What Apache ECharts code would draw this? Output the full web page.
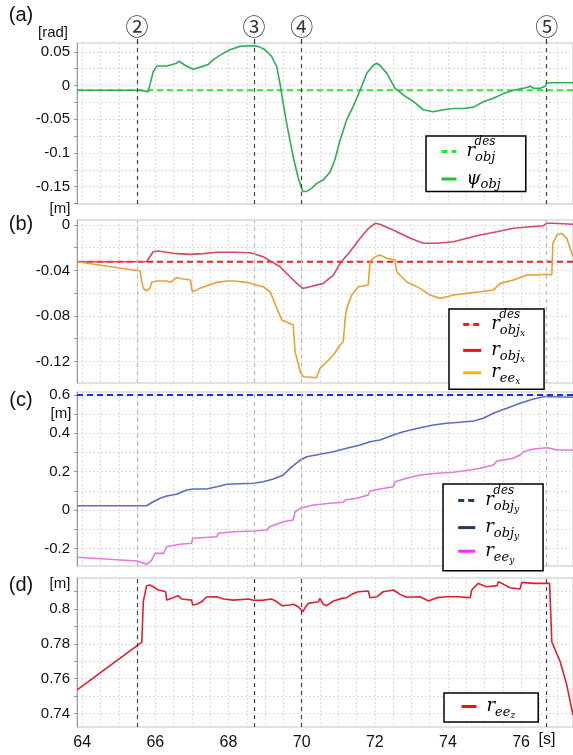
<!DOCTYPE html>
<html>
<head>
<meta charset="utf-8">
<script src="https://cdn.jsdelivr.net/npm/echarts@6/dist/echarts.min.js"></script>
<style>
  html, body { margin: 0; padding: 0; background: #fff; }
  #chart { width: 573px; height: 755px; }
</style>
</head>
<body>
<div id="chart"></div>
<script>
// shared time axis [s]
const xTicks = [64, 66, 68, 70, 72, 74, 76];
const xGrid = [64, 64.5, 65, 65.5, 66, 66.5, 67, 67.5, 68, 68.5, 69, 69.5, 70, 70.5, 71, 71.5,
  72, 72.5, 73, 73.5, 74, 74.5, 75, 75.5, 76, 76.5, 77];
const events = [65.5, 68.7, 70.0, 76.7];
const eventTags = ['②', '③', '④', '⑤'];

// (a) object yaw [rad]
const aTicks = [0.05, 0, -0.05, -0.1, -0.15];
const aGrid = [0.05, 0.025, 0, -0.025, -0.05, -0.075, -0.1, -0.125, -0.15, -0.175];
const psiDes = -0.007;
const psiObj = [[63.86,-0.007],[65.58,-0.007],[65.67,-0.008],[65.80,-0.009],[65.85,0.001],[65.94,0.020],
  [66.04,0.029],[66.31,0.029],[66.58,0.033],[66.65,0.036],[66.81,0.030],[66.95,0.026],[67.03,0.024],
  [67.27,0.028],[67.44,0.031],[67.58,0.038],[67.77,0.045],[68.04,0.053],[68.31,0.058],[68.64,0.059],
  [68.81,0.058],[69.0,0.053],[69.18,0.043],[69.32,0.028],[69.41,0.002],[69.50,-0.028],[69.59,-0.056],
  [69.68,-0.081],[69.77,-0.106],[69.91,-0.138],[70.03,-0.157],[70.14,-0.157],[70.28,-0.152],[70.41,-0.145],
  [70.59,-0.140],[70.78,-0.128],[70.91,-0.110],[71.05,-0.081],[71.23,-0.051],[71.41,-0.031],[71.60,-0.007],
  [71.78,0.018],[71.96,0.030],[72.05,0.033],[72.14,0.030],[72.33,0.018],[72.55,-0.004],[72.78,-0.014],
  [73.06,-0.024],[73.33,-0.036],[73.60,-0.039],[73.88,-0.036],[74.15,-0.034],[74.42,-0.034],[74.70,-0.032],
  [74.97,-0.024],[75.24,-0.019],[75.52,-0.012],[75.79,-0.007],[76.16,-0.003],[76.25,-0.001],[76.34,-0.004],
  [76.52,-0.004],[76.66,-0.001],[76.70,0.003],[76.79,0.004],[77.42,0.004]];

// (b) x position [m]
const bTicks = [0, -0.04, -0.08, -0.12];
const bGrid = [0, -0.02, -0.04, -0.06, -0.08, -0.1, -0.12];
const xDes = -0.0324;
const xObj = [[63.86,-0.0324],[65.76,-0.0324],[65.94,-0.0236],[66.08,-0.023],[66.49,-0.025],[66.95,-0.0259],
  [67.31,-0.0253],[67.68,-0.0241],[68.13,-0.0241],[68.59,-0.0245],[68.95,-0.028],[69.18,-0.0324],
  [69.41,-0.0368],[69.68,-0.0456],[69.87,-0.0514],[70.03,-0.0558],[70.23,-0.0544],[70.59,-0.0514],
  [70.87,-0.0441],[71.05,-0.0338],[71.32,-0.0236],[71.60,-0.0118],[71.83,-0.003],[72.01,0.0014],
  [72.14,0.0005],[72.50,-0.0045],[72.97,-0.0118],[73.33,-0.0162],[73.70,-0.0162],[74.15,-0.0148],
  [74.52,-0.0118],[74.88,-0.0089],[75.34,-0.006],[75.79,-0.003],[76.25,-0.0016],[76.61,-0.0007],
  [76.70,0.0014],[76.88,0.0014],[77.42,0.0005]];
const xEe = [[63.86,-0.0324],[65.58,-0.0405],[65.63,-0.05],[65.67,-0.0558],[65.76,-0.0581],[65.85,-0.0558],
  [65.90,-0.0505],[66.04,-0.0493],[66.31,-0.0493],[66.40,-0.0505],[66.49,-0.0485],[66.58,-0.0464],
  [66.76,-0.0476],[66.96,-0.0485],[67.01,-0.0588],[67.22,-0.0558],[67.40,-0.0535],[67.68,-0.0505],
  [67.95,-0.0493],[68.13,-0.0493],[68.50,-0.0505],[68.68,-0.0522],[68.95,-0.0544],[69.14,-0.0588],
  [69.32,-0.0733],[69.46,-0.0836],[69.77,-0.088],[69.82,-0.1115],[69.87,-0.1173],[69.96,-0.1291],
  [70.05,-0.1335],[70.41,-0.1344],[70.50,-0.1261],[70.69,-0.1203],[70.87,-0.1144],[71.05,-0.1056],
  [71.14,-0.1027],[71.19,-0.0821],[71.23,-0.0734],[71.37,-0.0617],[71.55,-0.0544],[71.82,-0.0529],
  [71.87,-0.0324],[72.01,-0.028],[72.14,-0.0265],[72.33,-0.0294],[72.55,-0.0309],[72.60,-0.0412],
  [72.87,-0.05],[73.24,-0.0558],[73.51,-0.0617],[73.79,-0.0646],[73.97,-0.0631],[74.15,-0.0617],
  [74.52,-0.0602],[74.88,-0.0588],[75.24,-0.0573],[75.43,-0.0514],[75.79,-0.0485],[76.16,-0.0441],
  [76.43,-0.0441],[76.70,-0.0434],[76.84,-0.0441],[76.87,-0.0162],[76.98,-0.0089],[77.11,-0.0074],
  [77.25,-0.0118],[77.42,-0.028]];

// (c) y position [m]
const cTicks = [0.6, 0.4, 0.2, 0, -0.2];
const cGrid = [0.6, 0.5, 0.4, 0.3, 0.2, 0.1, 0, -0.1, -0.2];
const yDes = 0.6;
const yObj = [[63.86,0.0224],[65.76,0.0224],[65.94,0.0433],[66.13,0.061],[66.31,0.073],[66.58,0.0819],
  [66.86,0.1043],[67.04,0.1095],[67.40,0.1095],[67.68,0.1215],[67.95,0.1341],[68.32,0.1372],[68.68,0.1393],
  [68.95,0.1476],[69.23,0.1617],[69.50,0.1826],[69.68,0.2175],[69.96,0.2608],[70.14,0.278],[70.50,0.2906],
  [70.87,0.3041],[71.23,0.3219],[71.60,0.3391],[71.87,0.3563],[72.14,0.3652],[72.51,0.3912],[72.78,0.4085],
  [73.24,0.4293],[73.60,0.4434],[73.97,0.4523],[74.33,0.4575],[74.70,0.4643],[74.97,0.4784],[75.24,0.5045],
  [75.61,0.5305],[75.97,0.5566],[76.34,0.579],[76.61,0.591],[76.79,0.591],[77.42,0.5879]];
const yEe = [[63.86,-0.2467],[65.49,-0.266],[65.76,-0.2833],[65.90,-0.2608],[65.99,-0.2259],[66.22,-0.2259],
  [66.31,-0.1914],[66.67,-0.1789],[66.99,-0.1737],[67.02,-0.1476],[67.68,-0.1393],[67.72,-0.1215],
  [68.13,-0.1132],[68.68,-0.1095],[69.05,-0.1043],[69.12,-0.0871],[69.50,-0.061],[69.77,-0.0522],
  [69.82,-0.0089],[69.96,0.0089],[70.32,0.0261],[70.78,0.035],[71.14,0.0402],[71.19,0.0522],[71.51,0.061],
  [71.82,0.0782],[71.87,0.0991],[72.14,0.1095],[72.51,0.1215],[72.55,0.1476],[72.87,0.1654],[73.24,0.1826],
  [73.70,0.1914],[74.15,0.1967],[74.61,0.2087],[74.88,0.2175],[75.24,0.2347],[75.34,0.2556],[75.79,0.2697],
  [75.97,0.2869],[76.06,0.3041],[76.34,0.3182],[76.70,0.325],[76.79,0.3219],[76.98,0.313],[77.42,0.313]];

// (d) z position [m]
const dTicks = [0.8, 0.78, 0.76, 0.74];
const dGrid = [0.81, 0.8, 0.79, 0.78, 0.77, 0.76, 0.75, 0.74];
const zEe = [[63.86,0.7535],[65.63,0.7809],[65.67,0.8042],[65.76,0.8134],[65.85,0.8138],[65.94,0.8128],
  [66.08,0.8109],[66.21,0.8103],[66.28,0.8099],[66.31,0.8051],[66.45,0.8061],[66.54,0.807],[66.63,0.8076],
  [66.72,0.8057],[66.99,0.8051],[67.02,0.8023],[67.13,0.8027],[67.27,0.8042],[67.40,0.8069],[67.68,0.807],
  [67.86,0.8057],[68.13,0.8051],[68.54,0.8057],[68.68,0.805],[68.95,0.8051],[69.18,0.8057],[69.32,0.8042],
  [69.46,0.8019],[69.68,0.8023],[69.77,0.8027],[69.91,0.8013],[70.03,0.7984],[70.09,0.8007],[70.18,0.8032],
  [70.46,0.8042],[70.50,0.8061],[70.59,0.8027],[70.68,0.8019],[70.87,0.8046],[71.10,0.8061],[71.23,0.8065],
  [71.37,0.8084],[71.55,0.8099],[71.82,0.8103],[71.87,0.8065],[72.05,0.807],[72.23,0.8099],[72.51,0.8109],
  [72.69,0.8084],[72.87,0.8067],[73.24,0.807],[73.47,0.8046],[73.70,0.8065],[73.97,0.807],[74.24,0.807],
  [74.61,0.8065],[74.65,0.8109],[74.83,0.8147],[75.06,0.8128],[75.34,0.8134],[75.38,0.8157],[75.70,0.8122],
  [75.97,0.8115],[76.02,0.8153],[76.34,0.8147],[76.78,0.8147],[76.84,0.7812],[77.07,0.7697],[77.25,0.7563],
  [77.42,0.7391]];

const X_MIN = 63.857, X_MAX = 77.42;
const LABEL_FONT = 'Liberation Sans';
const MATH_FONT = 'DejaVu Serif';

// stacked panel layout (annotation strip + a, b, c, d)
const panels = [
  { top: 15, height: 28, y: [0, 1] },
  { top: 43, height: 161, y: [-0.1756, 0.063] },
  { top: 220, height: 163, y: [-0.139, 0.0043] },
  { top: 392, height: 174, y: [-0.292, 0.6156] },
  { top: 578, height: 149, y: [0.7322, 0.8178] }
];

const fmt = v => String(parseFloat((+v).toFixed(3)));
const gridLine = { show: true, lineStyle: { color: '#dcdcdc', type: [2, 2], width: 1 } };

function xAxisFor(i) {
  const bottom = i === 4;
  return {
    type: 'value', gridIndex: i, min: X_MIN, max: X_MAX, show: i > 0,
    axisLine: { show: false },
    axisTick: { show: false, customValues: xGrid },
    axisLabel: {
      show: bottom, customValues: xTicks, formatter: fmt,
      fontSize: 16, color: '#111', fontFamily: LABEL_FONT, margin: 8
    },
    splitLine: gridLine
  };
}

function yAxisFor(i, labels, grid) {
  return {
    type: 'value', gridIndex: i, min: panels[i].y[0], max: panels[i].y[1],
    axisLine: { show: true, lineStyle: { color: '#9a9a9a' } },
    axisTick: { show: true, customValues: grid, length: 3, lineStyle: { color: '#9a9a9a' } },
    axisLabel: {
      customValues: labels, formatter: fmt,
      fontSize: 15, color: '#111', fontFamily: LABEL_FONT, margin: 7
    },
    splitLine: gridLine
  };
}

function eventLines(color) {
  return {
    silent: true, symbol: 'none', animation: false,
    label: { show: false },
    lineStyle: { color: color, type: [4, 4], width: 1.2 },
    data: events.map(t => ({ xAxis: t }))
  };
}

function desLine(name, idx, value, color, lineColor) {
  return {
    name: name, type: 'line', xAxisIndex: idx, yAxisIndex: idx,
    data: [[X_MIN, value], [X_MAX, value]],
    symbol: 'none', color: color,
    lineStyle: { color: color, width: 1.8, type: [6, 4] },
    markLine: eventLines(lineColor), z: 3
  };
}

function trace(name, idx, data, color) {
  return {
    name: name, type: 'line', xAxisIndex: idx, yAxisIndex: idx, data: data,
    symbol: 'none', color: color, lineStyle: { color: color, width: 1.6 }, z: 4
  };
}

// legend text: math-like labels with sub/superscripts
const m = (extra) => Object.assign({ fontFamily: MATH_FONT, fontStyle: 'italic', color: '#000' }, extra);
const rich = {
  m: m({ fontSize: 18, lineHeight: 24, padding: [0, 0, 0, 5] }),
  s: m({ fontSize: 13, lineHeight: 24, padding: [12, 0, 0, 0] }),
  ss: m({ fontSize: 9, lineHeight: 24, padding: [18, 0, 0, 0] }),
  sup: m({ fontSize: 12, lineHeight: 8, padding: [0, 0, 0, 13] }),
  md: m({ fontSize: 18, lineHeight: 19, padding: [0, 0, 8, 5] }),
  sd: m({ fontSize: 13, lineHeight: 19, padding: [4, 0, 0, 0] }),
  ssd: m({ fontSize: 9, lineHeight: 19, padding: [10, 0, 0, 0] })
};
const legendText = {
  psi_des: '{sup|des}\n{md|r}{sd|obj}',
  psi: '{m|ψ}{s|obj}',
  x_des: '{sup|des}\n{md|r}{sd|obj}{ssd|x}',
  x_obj: '{m|r}{s|obj}{ss|x}',
  x_ee: '{m|r}{s|ee}{ss|x}',
  y_des: '{sup|des}\n{md|r}{sd|obj}{ssd|y}',
  y_obj: '{m|r}{s|obj}{ss|y}',
  y_ee: '{m|r}{s|ee}{ss|y}',
  z_ee: '{m|r}{s|ee}{ss|z}'
};

function legendBox(left, top, padding, itemWidth, itemGap, items) {
  return {
    left: left, top: top, orient: 'vertical', padding: padding,
    itemWidth: itemWidth, itemHeight: 10, itemGap: itemGap,
    backgroundColor: '#fff', borderColor: '#000', borderWidth: 1.5, borderRadius: 0,
    selectedMode: false,
    formatter: name => legendText[name],
    textStyle: { rich: rich },
    lineStyle: { width: 3 },
    data: items.map(([name, color]) => ({
      name: name,
      itemStyle: { color: color, opacity: 0 },
      lineStyle: { color: color }
    }))
  };
}

const option = {
  animation: false,
  backgroundColor: '#fff',
  grid: panels.map((p, i) => ({
    left: 77, right: 0, top: p.top, height: p.height,
    show: i > 0, borderColor: '#c4c4c4', borderWidth: 1, backgroundColor: 'transparent'
  })),
  xAxis: [0, 1, 2, 3, 4].map(xAxisFor),
  yAxis: [
    { type: 'value', gridIndex: 0, min: 0, max: 1, show: false },
    yAxisFor(1, aTicks, aGrid),
    yAxisFor(2, bTicks, bGrid),
    yAxisFor(3, cTicks, cGrid),
    yAxisFor(4, dTicks, dGrid)
  ],
  legend: [
    legendBox(426, 136, [0, 25, 0, 14], 15, -2, [['psi_des', '#2ee82e'], ['psi', '#1fc41f']]),
    legendBox(449, 309, [0, 19, 3, 12.7], 18, -4.6, [['x_des', '#ff1a1a'], ['x_obj', '#ff0d0d'], ['x_ee', '#ffb020']]),
    legendBox(443, 484, [1, 24, 6, 13.7], 17, -3.4, [['y_des', '#1f3a8a'], ['y_obj', '#1f3864'], ['y_ee', '#ff2cff']]),
    legendBox(444, 693, [0, 23, 2, 16], 15, 0, [['z_ee', '#ff1010']])
  ],
  series: [
    {
      name: 'events', type: 'scatter', xAxisIndex: 0, yAxisIndex: 0,
      data: events.map((t, i) => [t, 0.607, eventTags[i]]),
      symbolSize: 2, itemStyle: { color: 'rgba(0,0,0,0)' }, silent: true,
      label: {
        show: true, position: 'inside', formatter: p => p.data[2],
        fontSize: 23, fontFamily: 'Noto Sans CJK JP', color: '#000'
      },
      markLine: {
        silent: true, symbol: 'none', label: { show: false },
        lineStyle: { color: '#333', type: [4, 4], width: 1.2 },
        data: events.map(t => [{ coord: [t, 0] }, { coord: [t, 0.3] }])
      }
    },
    desLine('psi_des', 1, psiDes, '#2ee82e', '#444'),
    trace('psi', 1, psiObj, '#2fae57'),
    desLine('x_des', 2, xDes, '#ff1a1a', '#b8b8b8'),
    trace('x_obj', 2, xObj, '#d9485f'),
    trace('x_ee', 2, xEe, '#e9a032'),
    desLine('y_des', 3, yDes, '#1a2bff', '#b8b8b8'),
    trace('y_obj', 3, yObj, '#5b6cc4'),
    trace('y_ee', 3, yEe, '#e27ad8'),
    Object.assign(trace('z_ee', 4, zEe, '#e0202e'), { markLine: eventLines('#444') })
  ],
  graphic: [
    ['(a)', 21, 15, 20], ['(b)', 21, 224, 20], ['(c)', 21, 400, 20], ['(d)', 21, 585, 20],
    ['[rad]', 53, 33, 15], ['[m]', 60, 209, 15], ['[m]', 61, 414, 15], ['[m]', 60, 584, 15],
    ['[s]', 547, 740, 16]
  ].map(([text, x, y, size]) => ({
    type: 'text', x: x, y: y, silent: true,
    style: { text: text, fontSize: size, fontFamily: LABEL_FONT, fill: '#111', align: 'center', verticalAlign: 'middle' }
  }))
};

const chart = echarts.init(document.getElementById('chart'));
chart.setOption(option);
</script>
</body>
</html>
